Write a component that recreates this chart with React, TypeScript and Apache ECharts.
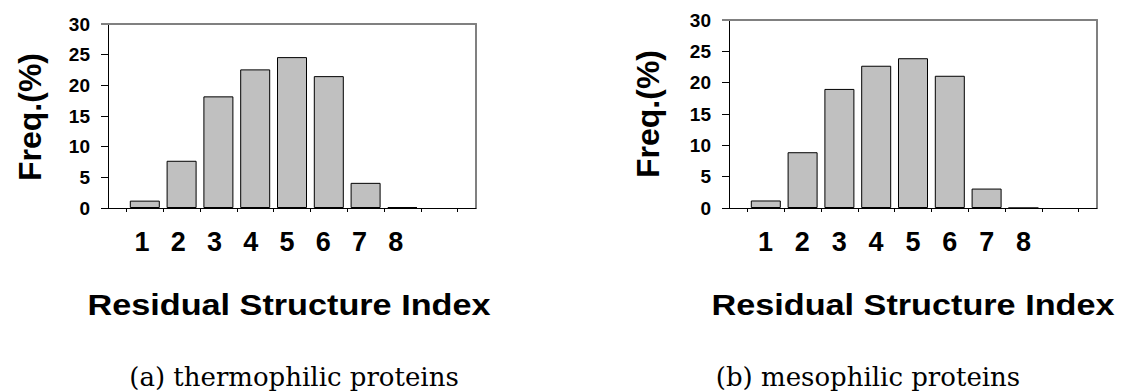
import React, { useEffect, useRef } from "react";
import * as echarts from "echarts";

// ---- data ----
const CATEGORIES = ["1", "2", "3", "4", "5", "6", "7", "8"];
const SLOT_COUNT = 9; // category slots between tick marks (last one empty)
const THERMOPHILIC = [1.2, 7.7, 18.2, 22.6, 24.6, 21.5, 4.1, 0.15];
const MESOPHILIC = [1.2, 8.9, 19.0, 22.7, 23.9, 21.1, 3.1, 0];
const Y_TICKS = [0, 5, 10, 15, 20, 25, 30];
const Y_LABEL = "Freq.(%)";
const X_LABEL = "Residual Structure Index";
const CAPTIONS = ["(a) thermophilic proteins", "(b) mesophilic proteins"];

const SANS = "'Liberation Sans', Arial, Helvetica, sans-serif";
const SERIF = "'DejaVu Serif', 'Liberation Serif', serif";

const PANELS = [
  {
    grid: { left: 108, top: 24, width: 368, height: 184 },
    labelGrid: { left: 124, top: 24, width: 290, height: 184 },
    values: THERMOPHILIC, freq: [30, 117], title: [289, 305], caption: [294, 377],
  },
  {
    grid: { left: 729, top: 20, width: 368, height: 188 },
    labelGrid: { left: 747, top: 20, width: 295, height: 188 },
    values: MESOPHILIC, freq: [648, 114], title: [913, 305], caption: [868, 377],
  },
];

function buildOption() {
  const xMax = SLOT_COUNT + 1;
  const boundaries = Array.from({ length: SLOT_COUNT + 1 }, (_, k) => k + 0.5);
  const yMin = Y_TICKS[0];
  const yMax = Y_TICKS[Y_TICKS.length - 1];
  const grids: any[] = [];
  const xAxes: any[] = [];
  const yAxes: any[] = [];
  const series: any[] = [];
  const graphics: any[] = [];

  PANELS.forEach((p, i) => {
    const gMain = grids.length;
    grids.push({ ...p.grid, containLabel: false, outerBoundsMode: "none" });
    const gLabel = grids.length;
    grids.push({ ...p.labelGrid, containLabel: false, outerBoundsMode: "none" });

    const xMain = xAxes.length;
    xAxes.push({
      type: "value", gridIndex: gMain, min: 0, max: xMax, position: "bottom",
      axisLine: { show: true, onZero: false, lineStyle: { color: "#000", width: 1 } },
      axisTick: { show: true, length: 4, customValues: boundaries, lineStyle: { color: "#000" } },
      axisLabel: { show: false },
      splitLine: { show: false },
    });
    xAxes.push({
      type: "value", gridIndex: gMain, min: 0, max: xMax, position: "top",
      axisLine: { show: true, onZero: false, lineStyle: { color: "#808080", width: 2 } },
      axisTick: { show: false }, axisLabel: { show: false }, splitLine: { show: false },
    });
    // category labels 1..8 (typed labels under the bars)
    xAxes.push({
      type: "category", gridIndex: gLabel, data: CATEGORIES, boundaryGap: true, position: "bottom",
      axisLine: { show: false, onZero: false }, axisTick: { show: false },
      axisLabel: { show: true, interval: 0, fontSize: 27, fontWeight: "bold", color: "#000", fontFamily: SANS, margin: 20 },
      splitLine: { show: false },
    });

    const yMain = yAxes.length;
    yAxes.push({
      type: "value", gridIndex: gMain, min: yMin, max: yMax, interval: 5, position: "left",
      axisLine: { show: true, onZero: false, lineStyle: { color: "#000", width: 1 } },
      axisTick: { show: true, length: 7, customValues: Y_TICKS.slice(0, -1), lineStyle: { color: "#000" } },
      axisLabel: { fontSize: 19, fontWeight: "bold", color: "#000", fontFamily: SANS, margin: 18 },
      splitLine: { show: false },
    });
    yAxes.push({
      type: "value", gridIndex: gMain, min: yMin, max: yMax, position: "left",
      axisLine: { show: false, onZero: false },
      axisTick: { show: true, length: 7, customValues: [yMax], lineStyle: { color: "#808080", width: 2 } },
      axisLabel: { show: false }, splitLine: { show: false },
    });
    yAxes.push({
      type: "value", gridIndex: gMain, min: yMin, max: yMax, position: "right",
      axisLine: { show: true, onZero: false, lineStyle: { color: "#808080", width: 2 } },
      axisTick: { show: false }, axisLabel: { show: false }, splitLine: { show: false },
    });
    yAxes.push({ type: "value", gridIndex: gLabel, min: yMin, max: yMax, show: false });

    series.push({
      type: "bar", xAxisIndex: xMain, yAxisIndex: yMain,
      data: p.values.map((v, k) => [k + 1, v]),
      barWidth: 30, silent: true,
      itemStyle: { color: "#c0c0c0", borderColor: "#000", borderWidth: 1 },
    });
    graphics.push({
      type: "text", x: p.freq[0], y: p.freq[1], rotation: Math.PI / 2,
      style: { text: Y_LABEL, fontSize: 32, fontWeight: "bold", fontFamily: SANS, fill: "#000", align: "center", verticalAlign: "middle" },
    });
    graphics.push({
      type: "text", x: p.title[0], y: p.title[1], scaleX: 1.18,
      style: { text: X_LABEL, fontSize: 29, fontWeight: "bold", fontFamily: SANS, fill: "#000", align: "center", verticalAlign: "middle" },
    });
    graphics.push({
      type: "text", x: p.caption[0], y: p.caption[1],
      style: { text: CAPTIONS[i], fontSize: 26, fontFamily: SERIF, fill: "#000", align: "center", verticalAlign: "middle" },
    });
  });

  return {
    animation: false,
    backgroundColor: "#fff",
    grid: grids,
    xAxis: xAxes,
    yAxis: yAxes,
    series,
    graphic: graphics,
  };
}

export default function App() {
  const ref = useRef<HTMLDivElement>(null);
  useEffect(() => {
    if (!ref.current) return;
    const chart = echarts.init(ref.current, undefined, { renderer: "svg" });
    chart.setOption(buildOption() as any);
    return () => chart.dispose();
  }, []);
  return (
    <div
      ref={ref}
      style={{ position: "fixed", left: 0, top: 0, width: 1127, height: 392, background: "#fff" }}
    />
  );
}
